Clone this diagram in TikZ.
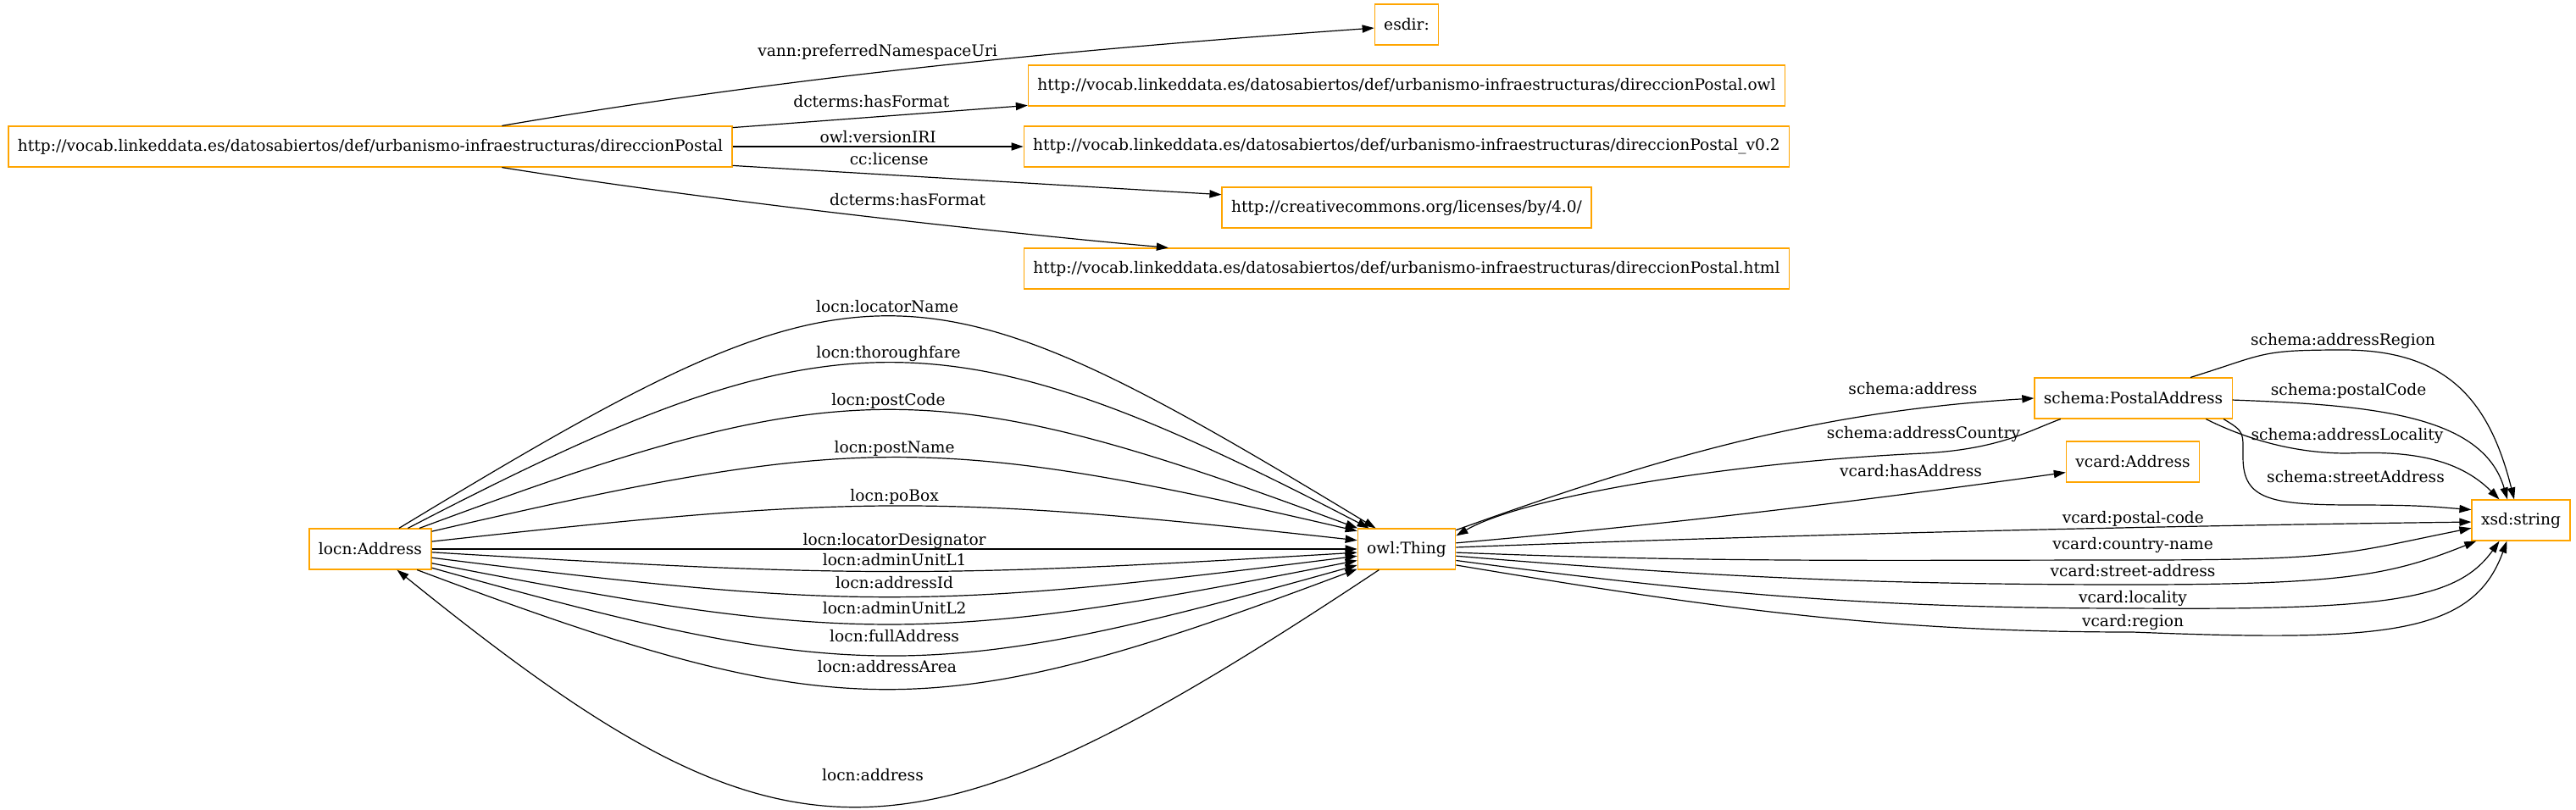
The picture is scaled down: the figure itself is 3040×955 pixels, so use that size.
\documentclass[tikz,border=0pt]{standalone}
\usepackage{fontspec}
\setmainfont{DejaVu Serif}
\usepackage{tikz}
\usetikzlibrary{arrows.meta,positioning}
\definecolor{resorange}{RGB}{255,165,0}

\begin{document}
\begin{tikzpicture}[
    x=0.5pt, y=-0.5pt,
    font=\fontsize{9.3}{11}\selectfont,
    res/.style={
        draw=resorange,
        line width=0.6pt,
        minimum height=24pt,
        inner xsep=5.5pt,
        inner ysep=0pt,
        fill=white
    },
    lbl/.style={
        inner sep=0pt,
        text height=7pt,
        text depth=2.2pt
    },
    arr/.style={-{Triangle[length=7pt,width=4.6pt]}, line width=0.6pt}
]
    \path[use as bounding box, fill=white] (0,0) rectangle (3040,955);

    %% Ontologia
    \node[res] (onto) at (437,173) {http://vocab.linkeddata.es/datosabiertos/def/urbanismo-infraestructuras/direccionPostal};
    \node[res] (esdir) at (1660,29) {esdir:};
    \node[res] (owlfile) at (1660,101) {http://vocab.linkeddata.es/datosabiertos/def/urbanismo-infraestructuras/direccionPostal.owl};
    \node[res] (version) at (1660,173) {http://vocab.linkeddata.es/datosabiertos/def/urbanismo-infraestructuras/direccionPostal\_v0.2};
    \node[res] (license) at (1660,245) {http://creativecommons.org/licenses/by/4.0/};
    \node[res] (htmlfile) at (1660,317) {http://vocab.linkeddata.es/datosabiertos/def/urbanismo-infraestructuras/direccionPostal.html};

    %% Clases
    \node[res] (address) at (437,648) {locn:Address};
    \node[res] (thing) at (1660,648) {owl:Thing};
    \node[res] (postal) at (2517.5,470) {schema:PostalAddress};
    \node[res] (vcaddr) at (2517,545) {vcard:Address};
    \node[res] (xsd) at (2975,614) {xsd:string};

    %% Metadatos
    \draw[arr] (onto.9.15) .. controls +(350,-60) and +(-350,25) .. (esdir.186)
        node[lbl, pos=0.43, above=6.8pt] {vann:preferredNamespaceUri};
    \draw[arr] (onto.3.35) -- (owlfile.183.4)
        node[lbl, pos=0.47, above=3.3pt] {dcterms:hasFormat};
    \draw[arr] (onto.east) -- (version.west)
        node[lbl, pos=0.5, above=0pt] {owl:versionIRI};
    \draw[arr] (onto.-3.35) -- (license.176.4)
        node[lbl, pos=0.32, above=3.3pt] {cc:license};
    \draw[arr] (onto.-9.15) .. controls +(250,40) and +(-200,-18) .. (htmlfile.175.9)
        node[lbl, pos=0.58, above=6.8pt] {dcterms:hasFormat};

    %% locn:Address -> owl:Thing
    \draw[arr] (address.36.9) .. controls +(550,-333) and +(-550,-333) .. (thing.146.3)
        node[lbl, pos=0.5, above=0pt] {locn:locatorName};
    \draw[arr] (address.29.2) .. controls +(500,-260) and +(-500,-260) .. (thing.151.9)
        node[lbl, pos=0.5, above=0.3pt] {locn:thoroughfare};
    \draw[arr] (address.23.2) .. controls +(500,-186) and +(-500,-186) .. (thing.157.7)
        node[lbl, pos=0.5, above=0.3pt] {locn:postCode};
    \draw[arr] (address.16.8) .. controls +(500,-116) and +(-500,-116) .. (thing.160.8)
        node[lbl, pos=0.5, above=0pt] {locn:postName};
    \draw[arr] (address.7.8) .. controls +(500,-55) and +(-500,-55) .. (thing.170.1)
        node[lbl, pos=0.5, above=0.3pt] {locn:poBox};
    \draw[arr] (address.east) -- (thing.west)
        node[lbl, pos=0.5, above=0pt] {locn:locatorDesignator};
    \draw[arr] (address.-3.9) .. controls +(500,30) and +(-500,30) .. (thing.184)
        node[lbl, pos=0.5, above=0.8pt] {locn:adminUnitL1};
    \draw[arr] (address.-8.6) .. controls +(500,63) and +(-500,63) .. (thing.188.9)
        node[lbl, pos=0.5, above=2.3pt] {locn:addressId};
    \draw[arr] (address.-13.1) .. controls +(500,98) and +(-500,98) .. (thing.193.6)
        node[lbl, pos=0.5, above=3.8pt] {locn:adminUnitL2};
    \draw[arr] (address.-17.5) .. controls +(500,140) and +(-500,140) .. (thing.198.3)
        node[lbl, pos=0.5, above=5.8pt] {locn:fullAddress};
    \draw[arr] (address.-24) .. controls +(500,188) and +(-500,188) .. (thing.202.7)
        node[lbl, pos=0.5, above=7.3pt] {locn:addressArea};
    \draw[arr] (thing.217.7) .. controls +(-560,372) and +(460,372) .. (address.-38.7)
        node[lbl, pos=0.48, above=12.3pt] {locn:address};

    %% owl:Thing -> schema / vcard
    \draw[arr] (thing.21.8) .. controls +(250,-90) and +(-250,15) .. (postal.west)
        node[lbl, pos=0.8, above=6.3pt] {schema:address};
    \draw[arr] (postal.196.3) .. controls (2395,508) and (2360,530) .. (2270,535)
        node[lbl, above=6.3pt] {schema:addressCountry}
        .. controls (2050,545) and (1800,585) .. (thing.15.6);
    \draw[arr] (thing.7) .. controls +(250,-22) and +(-250,35) .. (vcaddr.189.9)
        node[lbl, pos=0.75, above=7.3pt] {vcard:hasAddress};

    %% owl:Thing -> xsd:string
    \draw[arr] (thing.2) .. controls +(400,-15) and +(-400,5) .. (xsd.182)
        node[lbl, pos=0.667, above=0pt] {vcard:postal-code};
    \draw[arr] (thing.-4) .. controls +(300,12) and +(-300,0) .. (2517,661)
        node[lbl, above=3.8pt] {vcard:country-name}
        .. controls +(250,0) and +(-150,30) .. (xsd.189.5);
    \draw[arr] (thing.-8.9) .. controls +(300,25) and +(-300,0) .. (2517,690)
        node[lbl, above=2.3pt] {vcard:street-address}
        .. controls +(250,0) and +(-100,40) .. (xsd.205.6);
    \draw[arr] (thing.-13.7) .. controls +(300,40) and +(-300,0) .. (2517,718)
        node[lbl, above=0.8pt] {vcard:locality}
        .. controls +(300,2) and +(-50,70) .. (xsd.224);
    \draw[arr] (thing.-18.3) .. controls +(300,50) and +(-300,0) .. (2517,746)
        node[lbl, above=0.8pt] {vcard:region}
        .. controls +(300,12) and +(-40,110) .. (xsd.236);

    %% schema:PostalAddress -> xsd:string
    \draw[arr] (postal.20.7) .. controls +(90,-28) and +(-100,0) .. (2765,413)
        node[lbl, above=0.3pt] {schema:addressRegion}
        .. controls +(120,0) and +(-30,-120) .. (xsd.108.4);
    \draw[arr] (postal.-1.9) .. controls +(164,6) and +(-29,-100) .. (xsd.123.7)
        node[lbl, pos=0.3, above=4.8pt] {schema:postalCode};
    \draw[arr] (postal.-16.2) .. controls +(50,25) and +(-60,0) .. (2770,535)
        node[lbl, above=5.3pt] {schema:addressLocality}
        .. controls +(70,-3) and +(-50,-50) .. (xsd.136.2);
    \draw[arr] (postal.-13.8) .. controls +(25,15) and +(0,-30) .. (2647,540)
        .. controls +(0,50) and +(-100,0) .. (2780,596)
        node[lbl, above=10.8pt] {schema:streetAddress}
        .. controls +(80,0) and +(-40,-3) .. (xsd.168.6);
\end{tikzpicture}
\end{document}
